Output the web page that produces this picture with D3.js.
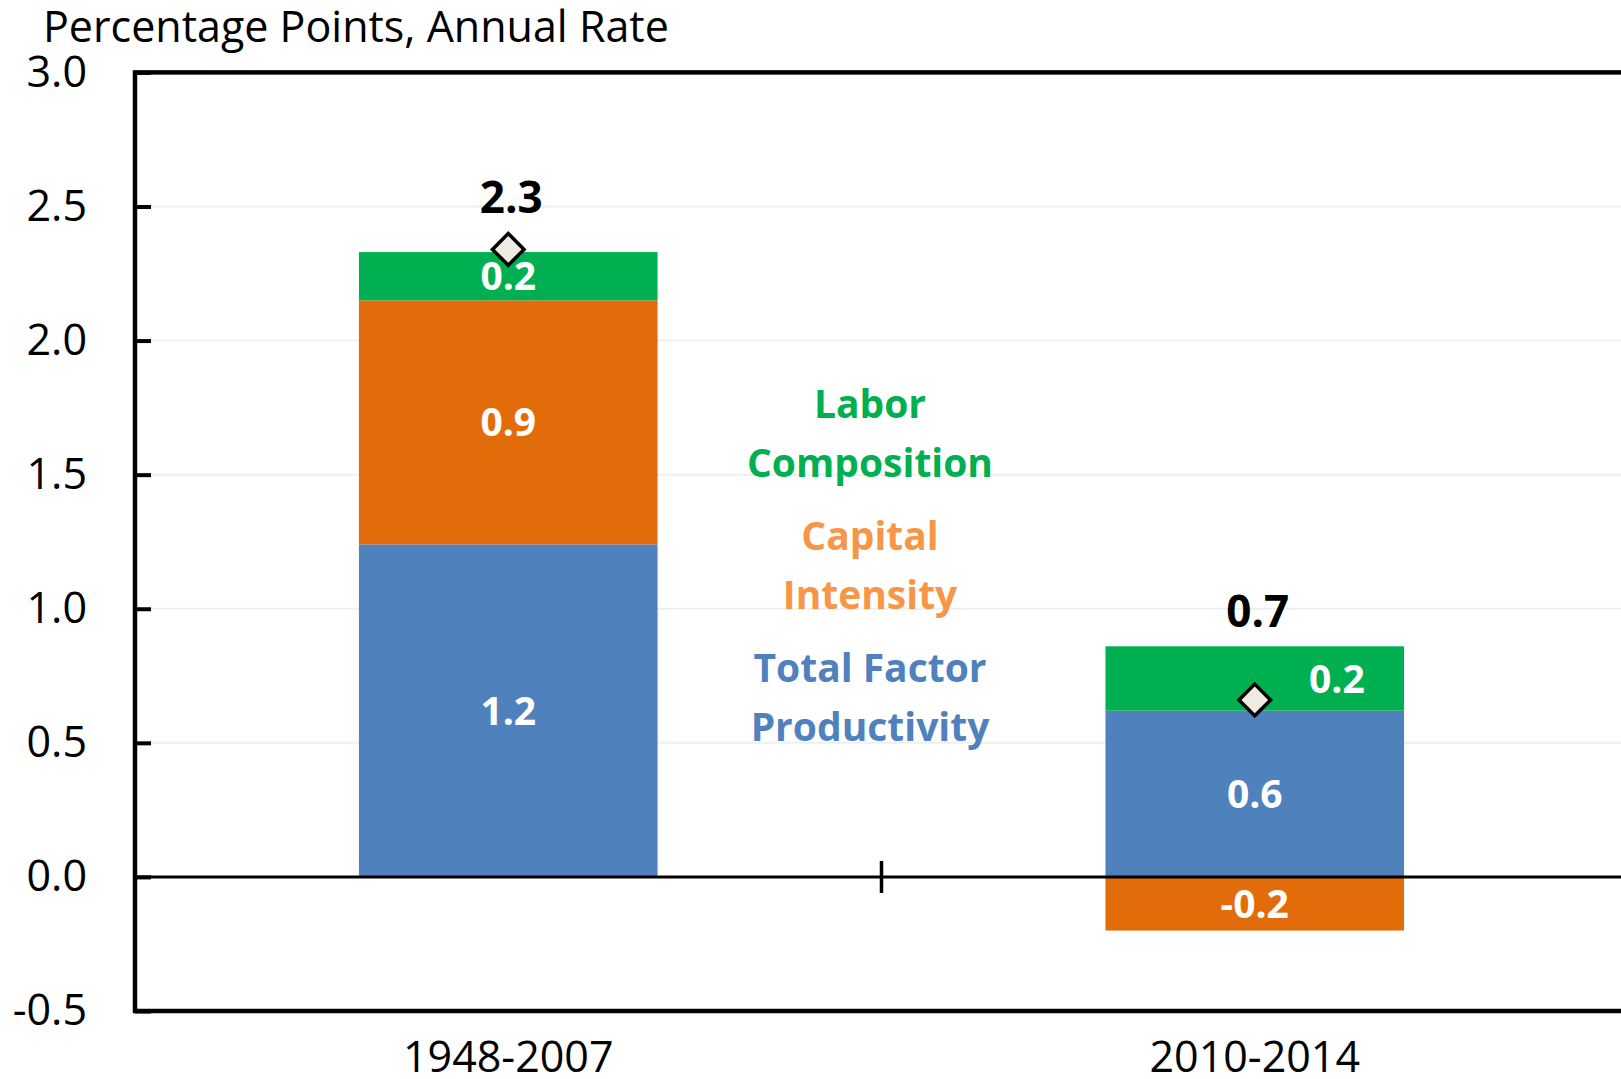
<!DOCTYPE html>
<head>
    <meta charset="utf-8">
    <script src="https://d3js.org/d3.v7.min.js"></script>
    <style>
        body { margin:0; background:#fff; }
        text { font-family: "Open Sans", sans-serif; }
    </style>
</head>
<body>
<script>
    // chart values
    var categories = ["1948-2007", "2010-2014"];
    var tfp = [1.24, 0.62];        // Total Factor Productivity
    var capital = [0.91, -0.20];   // Capital Intensity
    var labor = [0.18, 0.24];      // Labor Composition
    var totals = [2.34, 0.66];     // diamond: labor productivity growth
    var yTicks = [-0.5, 0, 0.5, 1.0, 1.5, 2.0, 2.5, 3.0];

    var width = 1621, height = 1079;
    var plotLeft = 135, plotRight = 1628, plotTop = 72.4, plotBottom = 1011;

    var svg = d3.select("body").append("svg")
        .attr("width", width)
        .attr("height", height);

    var x = d3.scaleBand().domain(categories)
        .range([plotLeft, plotRight])
        .paddingInner(0.6).paddingOuter(0.3);
    var y = d3.scaleLinear().domain([-0.5, 3]).range([plotBottom, plotTop]);

    var keys = ["tfp", "capital", "labor"];
    var colors = {tfp: "#4f81bd", capital: "#e36c0a", labor: "#00b050"};
    var rows = categories.map(function(c, i) {
        return {cat: c, tfp: tfp[i], capital: capital[i], labor: labor[i], total: totals[i]};
    });

    // gridlines
    svg.append("g").selectAll("line")
        .data(yTicks.filter(function(d) { return d > 0; }))
        .enter().append("line")
        .attr("x1", plotLeft).attr("x2", plotRight)
        .attr("y1", function(d) { return y(d); })
        .attr("y2", function(d) { return y(d); })
        .attr("stroke", "#efefef")
        .attr("stroke-width", 2);

    // stacked bars
    var stack = d3.stack().keys(keys).offset(d3.stackOffsetDiverging);
    var series = stack(rows);
    var fmt = function(v) { return v.toFixed(1); };

    var layer = svg.append("g").selectAll("g")
        .data(series).enter().append("g")
        .attr("fill", function(d) { return colors[d.key]; });

    layer.selectAll("rect")
        .data(function(d) { return d; })
        .enter().append("rect")
        .attr("x", function(d) { return x(d.data.cat); })
        .attr("width", x.bandwidth())
        .attr("y", function(d) { return y(Math.max(d[0], d[1])); })
        .attr("height", function(d) { return Math.abs(y(d[0]) - y(d[1])); });

    // segment value labels
    series.forEach(function(s) {
        s.forEach(function(d) {
            var v = d.data[s.key];
            var lo = Math.min(d[0], d[1]), hi = Math.max(d[0], d[1]);
            var cx = x(d.data.cat) + x.bandwidth() / 2;
            // shift sideways if the diamond sits inside this segment
            if (d.data.total > lo && d.data.total < hi) cx += x.bandwidth() * 0.275;
            svg.append("text")
                .attr("x", cx)
                .attr("y", (y(lo) + y(hi)) / 2)
                .attr("dy", "0.36em")
                .attr("text-anchor", "middle")
                .attr("fill", "#fff")
                .attr("font-weight", "bold")
                .attr("font-size", 39)
                .text(fmt(v));
        });
    });

    // frame
    svg.append("rect")
        .attr("x", plotLeft).attr("y", plotTop)
        .attr("width", plotRight - plotLeft).attr("height", plotBottom - plotTop)
        .attr("fill", "none")
        .attr("stroke", "#000")
        .attr("stroke-width", 4.5);

    // zero line and category divider tick
    svg.append("line")
        .attr("x1", plotLeft).attr("x2", plotRight)
        .attr("y1", y(0)).attr("y2", y(0))
        .attr("stroke", "#000").attr("stroke-width", 3);
    var mid = (x(categories[0]) + x(categories[1]) + x.bandwidth()) / 2;
    svg.append("line")
        .attr("x1", mid).attr("x2", mid)
        .attr("y1", y(0) - 16).attr("y2", y(0) + 16)
        .attr("stroke", "#000").attr("stroke-width", 3.5);

    // y axis
    var yAxis = svg.append("g")
        .attr("transform", "translate(" + plotLeft + ",0)")
        .call(d3.axisLeft(y).tickValues(yTicks)
            .tickSizeInner(-16).tickSizeOuter(0).tickPadding(48)
            .tickFormat(fmt));
    yAxis.select(".domain").remove();
    yAxis.selectAll(".tick line").attr("stroke", "#000").attr("stroke-width", 4);
    yAxis.selectAll(".tick text")
        .attr("font-family", "Open Sans")
        .attr("font-size", 43)
        .attr("fill", "#000");

    // x labels
    svg.append("g").selectAll("text")
        .data(categories).enter().append("text")
        .attr("x", function(d) { return x(d) + x.bandwidth() / 2; })
        .attr("y", 1072)
        .attr("text-anchor", "middle")
        .attr("font-size", 43)
        .attr("fill", "#000")
        .text(function(d) { return d; });

    // diamonds
    var diamond = d3.symbol().type(d3.symbolSquare).size(500);
    svg.append("g").selectAll("path")
        .data(rows).enter().append("path")
        .attr("d", diamond)
        .attr("transform", function(d) {
            return "translate(" + (x(d.cat) + x.bandwidth() / 2) + "," + y(d.total) + ") rotate(45)";
        })
        .attr("fill", "#eeece1")
        .attr("stroke", "#000")
        .attr("stroke-width", 3.5);

    // total labels
    svg.append("g").selectAll("text")
        .data(rows).enter().append("text")
        .attr("x", function(d) { return x(d.cat) + x.bandwidth() / 2 + 3; })
        .attr("y", function(d) {
            var barTop = y(d.tfp + Math.max(d.capital, 0) + d.labor);
            return Math.min(barTop, y(d.total) - 17.5) - 19;
        })
        .attr("text-anchor", "middle")
        .attr("font-weight", "bold")
        .attr("font-size", 44)
        .attr("fill", "#000")
        .text(function(d) { return fmt(d.total); });

    // title
    svg.append("text")
        .attr("x", 43).attr("y", 42)
        .attr("font-size", 43)
        .attr("fill", "#000")
        .text("Percentage Points, Annual Rate");

    // in-chart legend
    var legend = [
        {lines: ["Labor", "Composition"], color: "#00b050", y: 418},
        {lines: ["Capital", "Intensity"], color: "#f79646", y: 550},
        {lines: ["Total Factor", "Productivity"], color: "#4f81bd", y: 682}
    ];
    legend.forEach(function(l) {
        l.lines.forEach(function(t, j) {
            svg.append("text")
                .attr("x", 870)
                .attr("y", l.y + j * 59)
                .attr("text-anchor", "middle")
                .attr("font-weight", "bold")
                .attr("font-size", 39)
                .attr("fill", l.color)
                .text(t);
        });
    });
</script>
</body>
